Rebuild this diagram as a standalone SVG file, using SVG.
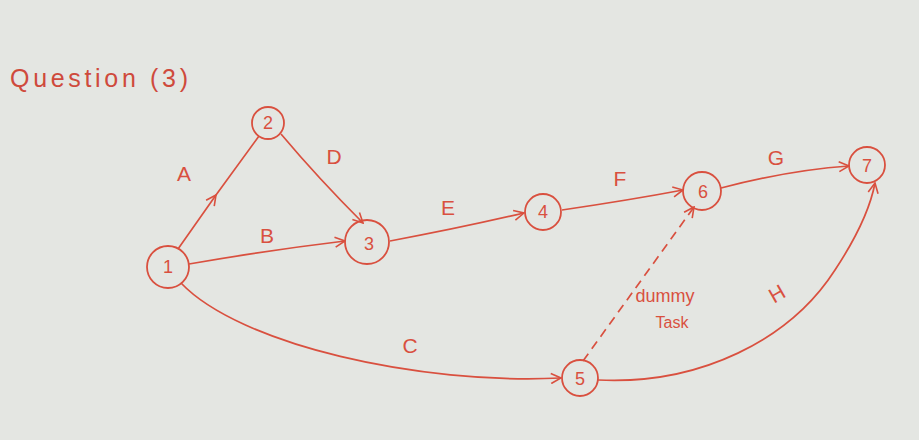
<svg xmlns="http://www.w3.org/2000/svg" width="919" height="440" viewBox="0 0 919 440">
<style>
.bg{fill:#e4e6e2}
.n{fill:none;stroke:#d9503f;stroke-width:1.8}
.e{fill:none;stroke:#d9503f;stroke-width:1.7}
.d{stroke-dasharray:9 6}
.t{font-family:"Liberation Sans",Arial,sans-serif;fill:#cf4a3c;font-size:25px}
.lbl{font-family:"Liberation Sans",Arial,sans-serif;fill:#d9503f;font-size:21px;text-anchor:middle}
.num{font-family:"Liberation Sans",Arial,sans-serif;fill:#d9503f;font-size:18px;text-anchor:middle;dominant-baseline:central}
</style>
<defs>
<marker id="ah" viewBox="0 0 12 12" refX="11" refY="6" markerWidth="12" markerHeight="12" markerUnits="userSpaceOnUse" orient="auto">
<path d="M1 1 L11 6 L1 11" fill="none" stroke="#d9503f" stroke-width="1.6"/>
</marker>
</defs>
<rect class="bg" x="0" y="0" width="919" height="440"/>
<text class="t" x="10" y="87" textLength="178" lengthAdjust="spacing">Question (3)</text>
<g id="connectors">
<polyline id="eA" class="e" points="178,249 216,195 259,136" marker-mid="url(#ah)"/>
<path id="eD" class="e" d="M281,134 Q318,178 363,223" marker-end="url(#ah)"/>
<path id="eB" class="e" d="M189,264 Q270,250 345,241" marker-end="url(#ah)"/>
<path id="eE" class="e" d="M390,241 Q460,228 524,213" marker-end="url(#ah)"/>
<path id="eF" class="e" d="M562,210 Q630,200 683,190" marker-end="url(#ah)"/>
<path id="eG" class="e" d="M721,188 Q790,170 849,166" marker-end="url(#ah)"/>
<path id="eC" class="e" d="M181,283 C240,345 420,385 561,378" marker-end="url(#ah)"/>
<path id="eH" class="e" d="M598,380 C700,385 790,340 835,270 Q868,220 875,183" marker-end="url(#ah)"/>
<path id="eDummy" class="e d" d="M583,361 L694,207" marker-end="url(#ah)"/>
</g>
<g id="labels">
<text class="lbl" x="184" y="181">A</text>
<text class="lbl" x="334" y="164">D</text>
<text class="lbl" x="267" y="243">B</text>
<text class="lbl" x="448" y="215">E</text>
<text class="lbl" x="620" y="186">F</text>
<text class="lbl" x="776" y="165">G</text>
<text class="lbl" x="410" y="353">C</text>
<text class="lbl" x="777" y="301" transform="rotate(-30 777 294)">H</text>
<text class="lbl" x="665" y="302" style="font-size:18px">dummy</text>
<text class="lbl" x="672" y="328" style="font-size:16px">Task</text>
</g>
<g id="node1"><circle class="n" cx="168" cy="267" r="21"/><text class="num" x="168" y="267">1</text></g>
<g id="node2"><circle class="n" cx="268" cy="123" r="16"/><text class="num" x="268" y="123">2</text></g>
<g id="node3"><circle class="n" cx="367" cy="242" r="22"/><text class="num" x="369" y="244">3</text></g>
<g id="node4"><circle class="n" cx="543" cy="212" r="18"/><text class="num" x="543" y="212">4</text></g>
<g id="node5"><circle class="n" cx="580" cy="378" r="18"/><text class="num" x="580" y="379">5</text></g>
<g id="node6"><circle class="n" cx="702" cy="191" r="19"/><text class="num" x="703" y="192">6</text></g>
<g id="node7"><circle class="n" cx="867" cy="165" r="18"/><text class="num" x="867" y="166">7</text></g>
</svg>
